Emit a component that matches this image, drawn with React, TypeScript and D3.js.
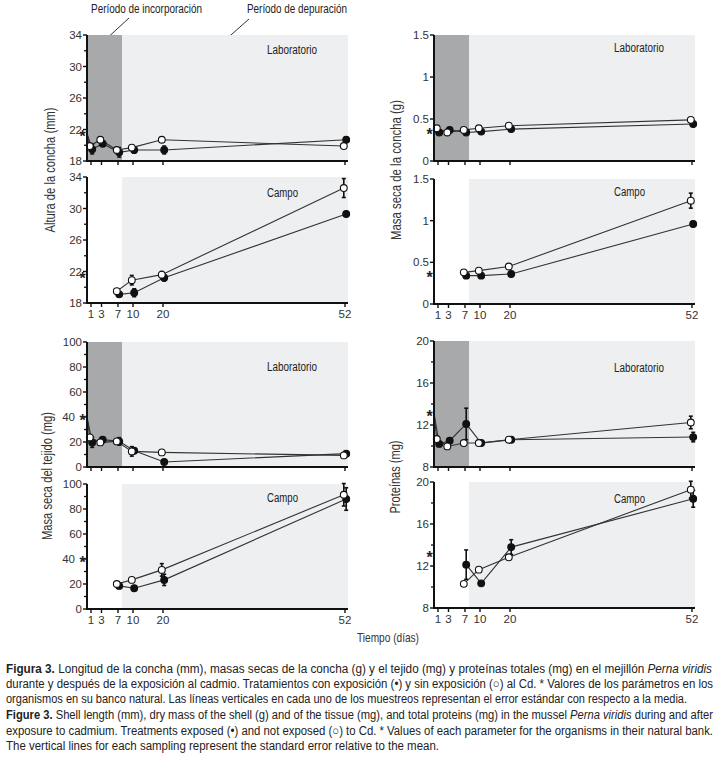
import * as d3 from "d3";

const FONT = "'Liberation Sans Narrow', 'Arial Narrow', 'Liberation Sans', Arial, sans-serif";

// eje de tiempo (días)
const DAY_TICKS = [1, 3, 7, 10, 20, 52];
const LAB_DAYS = [1, 3, 7, 10, 20, 52];
const CAMPO_DAYS = [7, 10, 20, 52];
const INCORPORATION_END = 7.8;

// Altura de la concha (mm)
const alturaNatural = 21.5;
const alturaLabExp = [19.5, 20.2, 19.1, 19.4, 19.4, 20.7];
const alturaLabExpErr = [0.6, 0.3, 0.6, 0.4, 0.5, 0.2];
const alturaLabCtl = [19.9, 20.7, 19.4, 19.7, 20.7, 19.9];
const alturaLabCtlErr = [0.2, 0.2, 0.3, 0.2, 0.2, 0.1];
const alturaCampoExp = [19.1, 19.3, 21.2, 29.3];
const alturaCampoExpErr = [0.1, 0.5, 0.4, 0.2];
const alturaCampoCtl = [19.5, 20.9, 21.6, 32.6];
const alturaCampoCtlErr = [0.1, 0.6, 0.4, 1.2];

// Masa seca de la concha (g)
const concNatural = 0.36;
const concLabExp = [0.34, 0.37, 0.34, 0.35, 0.38, 0.44];
const concLabExpErr = [0.02, 0.01, 0.02, 0.01, 0.01, 0.01];
const concLabCtl = [0.39, 0.34, 0.37, 0.39, 0.42, 0.49];
const concLabCtlErr = [0.01, 0.01, 0.01, 0.01, 0.01, 0.01];
const concCampoExp = [0.34, 0.34, 0.36, 0.96];
const concCampoExpErr = [0.01, 0.01, 0.01, 0.02];
const concCampoCtl = [0.38, 0.4, 0.45, 1.24];
const concCampoCtlErr = [0.03, 0.01, 0.01, 0.09];

// Masa seca del tejido (mg)
const tejNatural = 40;
const tejLabExp = [19.7, 21.9, 20.5, 13, 4, 10.7];
const tejLabExpErr = [4, 2, 3, 0, 0, 0.5];
const tejLabCtl = [23.7, 19.7, 20.5, 12.5, 11.7, 9.3];
const tejLabCtlErr = [0.5, 0.5, 0.5, 3.8, 0.5, 0.5];
const tejCampoExp = [18.5, 16.6, 23.3, 88];
const tejCampoExpErr = [0.5, 0.5, 4.5, 9];
const tejCampoCtl = [20, 23.3, 31.3, 91.4];
const tejCampoCtlErr = [0.5, 0.5, 5, 9];

// Proteínas (mg)
const protNatural = 13.1;
const protLabExp = [10.2, 10.5, 12.1, 10.28, 10.6, 10.85];
const protLabExpErr = [0.1, 0.1, 1.5, 0, 0.1, 0.45];
const protLabCtl = [10.66, 9.96, 10.28, 10.28, 10.6, 12.24];
const protLabCtlErr = [0.1, 0.1, 0.1, 0.1, 0.1, 0.6];
const protCampoExp = [12.13, 10.35, 13.8, 18.4];
const protCampoExpErr = [1.4, 0.1, 0.7, 0.8];
const protCampoCtl = [10.3, 11.65, 12.83, 19.27];
const protCampoCtlErr = [0.1, 0.1, 0.1, 0.8];

// eje x quebrado: posiciones relativas del dibujo original
const X_DOMAIN = [0, 1, 3, 7, 10, 20, 52];
const X_OFFSETS = [0, 4, 14.5, 31, 46, 76, 258];
const PLOT_W = 261;

type PanelProps = {
  left: number;
  top: number;
  bottom: number;
  domain: [number, number];
  major: number[];
  minor: number[];
  kind: "lab" | "campo";
  days: number[];
  exp: number[];
  expErr: number[];
  ctl: number[];
  ctlErr: number[];
  natural: number;
  titleDy: number;
  xLabels?: boolean;
};

function Panel(p: PanelProps) {
  const x = d3.scaleLinear().domain(X_DOMAIN).range(X_OFFSETS.map((o) => p.left + o));
  const y = d3.scaleLinear().domain(p.domain).range([p.bottom, p.top]);
  const right = p.left + PLOT_W;
  const bandX = x(INCORPORATION_END);
  const title = p.kind === "lab" ? "Laboratorio" : "Campo";

  const line = d3
    .line<[number, number, number]>()
    .x((d) => x(d[0]) + d[2])
    .y((d) => y(d[1]));

  const build = (vals: number[], dx: number): [number, number, number][] => {
    const pts: [number, number, number][] = p.days.map((d, i) => [d, vals[i], dx]);
    return p.kind === "lab" ? [[0, p.natural, 0], ...pts] : pts;
  };

  const series = [
    { vals: p.exp, errs: p.expErr, filled: true, dx: 1.2 },
    { vals: p.ctl, errs: p.ctlErr, filled: false, dx: -1.2 },
  ];

  return (
    <g>
      {p.kind === "lab" ? (
        <>
          <rect x={p.left} y={p.top} width={bandX - p.left} height={p.bottom - p.top} fill="#a8a9ab" />
          <rect x={bandX} y={p.top} width={right - bandX} height={p.bottom - p.top} fill="#eeeff0" />
        </>
      ) : (
        <rect x={bandX} y={p.top} width={right - bandX} height={p.bottom - p.top} fill="#eeeff0" />
      )}
      <text x={p.left + 180} y={p.top + p.titleDy} fontSize={12.5} fontFamily={FONT} fill="#222"
        textLength={p.kind === "lab" ? 50 : 31} lengthAdjust="spacingAndGlyphs">
        {title}
      </text>

      {series.map((s, k) => (
        <path key={k} d={line(build(s.vals, s.dx)) ?? ""} fill="none" stroke="#333" strokeWidth={1.1} />
      ))}
      {series.map((s, k) =>
        p.days.map((d, i) =>
          s.errs[i] > 0 ? (
            <g key={`e${k}-${i}`} stroke="#111" strokeWidth={1.6}>
              <line x1={x(d) + s.dx} x2={x(d) + s.dx} y1={y(s.vals[i] - s.errs[i])} y2={y(s.vals[i] + s.errs[i])} />
              <line x1={x(d) + s.dx - 2} x2={x(d) + s.dx + 2} y1={y(s.vals[i] + s.errs[i])} y2={y(s.vals[i] + s.errs[i])} />
              <line x1={x(d) + s.dx - 2} x2={x(d) + s.dx + 2} y1={y(s.vals[i] - s.errs[i])} y2={y(s.vals[i] - s.errs[i])} />
            </g>
          ) : null
        )
      )}
      {series.map((s, k) =>
        p.days.map((d, i) => (
          <circle key={`c${k}-${i}`} cx={x(d) + s.dx} cy={y(s.vals[i])} r={3.4}
            fill={s.filled ? "#111" : "#fff"} stroke="#111" strokeWidth={1.1} />
        ))
      )}

      {/* eje y */}
      <line x1={p.left} x2={p.left} y1={p.top} y2={p.bottom + 1} stroke="#111" strokeWidth={2} />
      {p.minor.map((v) => (
        <line key={`m${v}`} x1={p.left - 3} x2={p.left} y1={y(v)} y2={y(v)} stroke="#111" strokeWidth={1.3} />
      ))}
      {p.major.map((v) => {
        const near = Math.abs(y(v) - y(p.natural)) < 3;
        return (
          <g key={`M${v}`}>
            <line x1={p.left - 4} x2={p.left} y1={y(v)} y2={y(v)} stroke="#111" strokeWidth={1.4} />
            <text x={p.left - (near ? 12 : 5)} y={y(v)} dy="0.36em" textAnchor="end" fontSize={11.5}
              fontFamily={FONT} fill="#333">
              {String(v)}
            </text>
          </g>
        );
      })}
      <text x={p.left - 4.5} y={y(p.natural) + 9} textAnchor="middle" fontSize={16} fontWeight="bold"
        fontFamily={FONT} fill="#222">
        *
      </text>

      {/* eje x */}
      <line x1={p.left - 1} x2={right} y1={p.bottom} y2={p.bottom} stroke="#111" strokeWidth={2} />
      {DAY_TICKS.map((d) => (
        <g key={`t${d}`}>
          <line x1={x(d)} x2={x(d)} y1={p.bottom} y2={p.bottom + 4} stroke="#111" strokeWidth={1.4} />
          {p.xLabels ? (
            <text x={x(d)} y={p.bottom + 15} textAnchor="middle" fontSize={11.5} fontFamily={FONT} fill="#333">
              {String(d)}
            </text>
          ) : null}
        </g>
      ))}
    </g>
  );
}

function YLabel({ x, y, len, text }: { x: number; y: number; len: number; text: string }) {
  return (
    <text transform={`translate(${x},${y}) rotate(-90)`} textAnchor="middle" fontSize={14.5} fontFamily={FONT}
      fill="#333" textLength={len} lengthAdjust="spacingAndGlyphs">
      {text}
    </text>
  );
}

export default function App() {
  const L = 87;
  const R = 434;
  return (
    <svg width={718} height={762} style={{ position: "absolute", left: 0, top: 0, background: "#fff" }}>
      {/* anotaciones */}
      <text x={91} y={13} fontSize={12} fontFamily={FONT} fill="#222" textLength={111} lengthAdjust="spacingAndGlyphs">
        Período de incorporación
      </text>
      <line x1={129} y1={18} x2={104} y2={41} stroke="#333" strokeWidth={1} />
      <text x={247} y={13} fontSize={12} fontFamily={FONT} fill="#222" textLength={100} lengthAdjust="spacingAndGlyphs">
        Período de depuración
      </text>
      <line x1={249} y1={19} x2={223} y2={42} stroke="#333" strokeWidth={1} />

      <Panel left={L} top={35} bottom={161} domain={[18, 34]} major={[18, 22, 26, 30, 34]} minor={[20, 24, 28, 32]}
        kind="lab" days={LAB_DAYS} exp={alturaLabExp} expErr={alturaLabExpErr} ctl={alturaLabCtl}
        ctlErr={alturaLabCtlErr} natural={alturaNatural} titleDy={19} />
      <Panel left={L} top={177} bottom={303} domain={[18, 34]} major={[18, 22, 26, 30, 34]} minor={[20, 24, 28, 32]}
        kind="campo" days={CAMPO_DAYS} exp={alturaCampoExp} expErr={alturaCampoExpErr} ctl={alturaCampoCtl}
        ctlErr={alturaCampoCtlErr} natural={alturaNatural} titleDy={20} xLabels />

      <Panel left={R} top={35} bottom={161} domain={[0, 1.5]} major={[0, 0.5, 1, 1.5]} minor={[]}
        kind="lab" days={LAB_DAYS} exp={concLabExp} expErr={concLabExpErr} ctl={concLabCtl}
        ctlErr={concLabCtlErr} natural={concNatural} titleDy={17} />
      <Panel left={R} top={179} bottom={304} domain={[0, 1.5]} major={[0, 0.5, 1, 1.5]} minor={[]}
        kind="campo" days={CAMPO_DAYS} exp={concCampoExp} expErr={concCampoExpErr} ctl={concCampoCtl}
        ctlErr={concCampoCtlErr} natural={concNatural} titleDy={17} xLabels />

      <Panel left={L} top={342} bottom={467} domain={[0, 100]} major={[0, 20, 40, 60, 80, 100]}
        minor={[10, 30, 50, 70, 90]} kind="lab" days={LAB_DAYS} exp={tejLabExp} expErr={tejLabExpErr}
        ctl={tejLabCtl} ctlErr={tejLabCtlErr} natural={tejNatural} titleDy={29} />
      <Panel left={L} top={484} bottom={609} domain={[0, 100]} major={[0, 20, 40, 60, 80, 100]}
        minor={[10, 30, 50, 70, 90]} kind="campo" days={CAMPO_DAYS} exp={tejCampoExp} expErr={tejCampoExpErr}
        ctl={tejCampoCtl} ctlErr={tejCampoCtlErr} natural={tejNatural} titleDy={18} xLabels />

      <Panel left={R} top={341} bottom={467} domain={[8, 20]} major={[8, 12, 16, 20]} minor={[10, 14, 18]}
        kind="lab" days={LAB_DAYS} exp={protLabExp} expErr={protLabExpErr} ctl={protLabCtl}
        ctlErr={protLabCtlErr} natural={protNatural} titleDy={31} />
      <Panel left={R} top={482} bottom={608} domain={[8, 20]} major={[8, 12, 16, 20]} minor={[10, 14, 18]}
        kind="campo" days={CAMPO_DAYS} exp={protCampoExp} expErr={protCampoExpErr} ctl={protCampoCtl}
        ctlErr={protCampoCtlErr} natural={protNatural} titleDy={21} xLabels />

      <YLabel x={55} y={170} len={125} text="Altura de la concha (mm)" />
      <YLabel x={401} y={170} len={140} text="Masa seca de la concha (g)" />
      <YLabel x={52} y={476} len={128} text="Masa seca del tejido (mg)" />
      <YLabel x={400} y={477} len={73} text="Proteínas (mg)" />

      <text x={357} y={642} fontSize={13} fontFamily={FONT} fill="#333" textLength={62} lengthAdjust="spacingAndGlyphs">
        Tiempo (días)
      </text>

      {/* pie de figura */}
      <g fontFamily={FONT} fontSize={12.5} fill="#222">
        <text x={6} y={673} textLength={706} lengthAdjust="spacingAndGlyphs">
          <tspan fontWeight="bold">Figura 3.</tspan> Longitud de la concha (mm), masas secas de la concha (g) y el tejido
          (mg) y proteínas totales (mg) en el mejillón <tspan fontStyle="italic">Perna viridis</tspan>
        </text>
        <text x={6} y={688} textLength={707} lengthAdjust="spacingAndGlyphs">
          durante y después de la exposición al cadmio. Tratamientos con exposición (•) y sin exposición (○) al Cd. *
          Valores de los parámetros en los
        </text>
        <text x={6} y={703} textLength={681} lengthAdjust="spacingAndGlyphs">
          organismos en su banco natural. Las líneas verticales en cada uno de los muestreos representan el error
          estándar con respecto a la media.
        </text>
        <text x={6} y={719} textLength={707} lengthAdjust="spacingAndGlyphs">
          <tspan fontWeight="bold">Figure 3.</tspan> Shell length (mm), dry mass of the shell (g) and of the tissue (mg),
          and total proteins (mg) in the mussel <tspan fontStyle="italic">Perna viridis</tspan> during and after
        </text>
        <text x={6} y={735} textLength={707} lengthAdjust="spacingAndGlyphs">
          exposure to cadmium. Treatments exposed (•) and not exposed (○) to Cd. * Values of each parameter for the
          organisms in their natural bank.
        </text>
        <text x={6} y={750} textLength={433} lengthAdjust="spacingAndGlyphs">
          The vertical lines for each sampling represent the standard error relative to the mean.
        </text>
      </g>
    </svg>
  );
}
